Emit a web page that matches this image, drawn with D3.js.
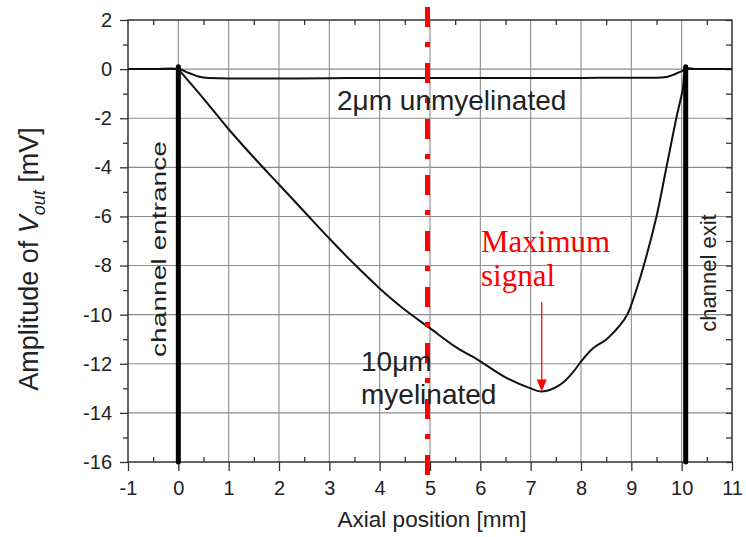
<!DOCTYPE html>
<html>
<head>
<meta charset="utf-8">
<script src="https://cdn.jsdelivr.net/npm/d3@7"></script>
<style>
  html, body { margin: 0; padding: 0; background: #fff; }
  svg { display: block; }
  text { font-family: "Liberation Sans", Arial, sans-serif; fill: #222; }
</style>
</head>
<body>
<svg id="chart" width="746" height="537"></svg>
<script>
// Axial position (mm) and signal amplitude (mV) along the channel
const xMyelinated = [-1, -0.5, 0, 0.05, 0.5, 1, 1.5, 2, 2.5, 3, 3.5, 4, 4.5, 5, 5.5, 6, 6.5, 7, 7.22, 7.58, 7.85, 8, 8.24, 8.51, 8.78, 8.93, 9.05, 9.24, 9.5, 9.7, 9.9, 10.02, 10.09, 10.3, 10.6, 11];
const yMyelinated = [0, 0, 0, -0.12, -1.2, -2.45, -3.6, -4.7, -5.8, -6.9, -7.95, -8.93, -9.8, -10.55, -11.3, -11.9, -12.55, -13.0, -13.13, -12.86, -12.32, -11.91, -11.37, -11.0, -10.42, -9.95, -9.3, -8.05, -6.0, -3.97, -1.94, -0.85, 0, 0, 0, 0];

const xUnmyelinated = [-1, -0.5, 0, 0.2, 0.4, 0.6, 1, 2, 3, 4, 5, 6, 7, 8, 9, 9.5, 9.7, 9.85, 10, 10.1, 10.5, 11];
const yUnmyelinated = [0, 0, 0, -0.15, -0.3, -0.36, -0.38, -0.38, -0.37, -0.36, -0.36, -0.36, -0.36, -0.36, -0.35, -0.35, -0.32, -0.22, -0.08, 0, 0, 0];

const xTicks = [-1, 0, 1, 2, 3, 4, 5, 6, 7, 8, 9, 10, 11];
const yTicks = [2, 0, -2, -4, -6, -8, -10, -12, -14, -16];

const channelEntrance = 0;
const channelExit = 10.08;
const markerPosition = 4.95;
const maxSignal = { x: 7.22, y: -13.13 };

const svg = d3.select("#chart");
const x = d3.scaleLinear().domain([-1, 11]).range([128, 732]);
const y = d3.scaleLinear().domain([2, -16]).range([20, 462]);
const [x0, x1] = x.range();
const [y0, y1] = y.range();

// grid
const grid = svg.append("g").attr("stroke", "#8c8c8c").attr("stroke-width", 1.1);
grid.selectAll("line.v").data(xTicks.slice(1, -1)).join("line")
  .attr("x1", d => x(d)).attr("x2", d => x(d)).attr("y1", y0).attr("y2", y1);
grid.selectAll("line.h").data(yTicks.slice(1, -1)).join("line")
  .attr("y1", d => y(d)).attr("y2", d => y(d)).attr("x1", x0).attr("x2", x1);

// axes
const axisColor = "#333";
const fontTick = "20px";
const halfX = d3.range(-0.5, 11, 1);
const oddY = d3.range(1, -16, -2);

const axisBottomG = svg.append("g").attr("transform", `translate(0,${y1})`)
  .call(d3.axisBottom(x).tickValues(xTicks).tickSize(9).tickSizeOuter(0).tickPadding(10).tickFormat(d3.format("d")));
const axisLeftG = svg.append("g").attr("transform", `translate(${x0},0)`)
  .call(d3.axisLeft(y).tickValues(yTicks).tickSize(8).tickSizeOuter(0).tickPadding(8).tickFormat(d3.format("d")));
svg.append("g").attr("transform", `translate(0,${y0})`)
  .call(d3.axisBottom(x).tickValues(halfX).tickSize(5).tickSizeOuter(0).tickFormat(""));
svg.append("g").attr("transform", `translate(${x1},0)`)
  .call(d3.axisLeft(y).tickValues(yTicks.concat(oddY)).tickSize(6).tickSizeOuter(0).tickFormat(""));
svg.append("g").attr("transform", `translate(0,${y1})`)
  .call(d3.axisTop(x).tickValues(halfX).tickSize(5).tickSizeOuter(0).tickFormat(""));
svg.append("g").attr("transform", `translate(${x0},0)`)
  .call(d3.axisLeft(y).tickValues(oddY).tickSize(5).tickSizeOuter(0).tickFormat(""));

svg.selectAll(".domain").remove();
svg.selectAll(".tick line").attr("stroke", axisColor).attr("stroke-width", 1.3);
svg.selectAll(".tick text").style("font-family", '"Liberation Sans", Arial, sans-serif')
  .style("font-size", fontTick).attr("fill", "#222");
axisBottomG.selectAll(".tick text").text(d => d < 0 ? "-" + Math.abs(d) : d);
axisLeftG.selectAll(".tick text").text(d => d < 0 ? "-" + Math.abs(d) : d);

svg.append("rect").attr("x", x0).attr("y", y0).attr("width", x1 - x0).attr("height", y1 - y0)
  .attr("fill", "none").attr("stroke", axisColor).attr("stroke-width", 1.5);

// curves
const lineFlat = d3.line().x(d => x(d[0])).y(d => y(d[1])).curve(d3.curveMonotoneX);
const lineSmooth = d3.line().x(d => x(d[0])).y(d => y(d[1])).curve(d3.curveCatmullRom.alpha(0.5));
svg.append("path").datum(d3.zip(xUnmyelinated, yUnmyelinated))
  .attr("d", lineFlat).attr("fill", "none").attr("stroke", "#111").attr("stroke-width", 2);
svg.append("path").datum(d3.zip(xMyelinated, yMyelinated))
  .attr("d", lineSmooth).attr("fill", "none").attr("stroke", "#111").attr("stroke-width", 2);

// channel boundaries
svg.selectAll("line.channel").data([channelEntrance, channelExit]).join("line")
  .attr("x1", d => x(d)).attr("x2", d => x(d)).attr("y1", y(0.1)).attr("y2", y(-16))
  .attr("stroke", "#000").attr("stroke-width", 5).attr("stroke-linecap", "round");

// marker line
svg.append("line")
  .attr("x1", x(markerPosition)).attr("x2", x(markerPosition))
  .attr("y1", y(2.53)).attr("y2", y(-16.53))
  .attr("stroke", "#ff0000").attr("stroke-width", 5)
  .attr("stroke-dasharray", "20,15,5,16");

// annotations
svg.append("text").attr("x", 337).attr("y", 110).style("font-size", "28px").text("2\u03bcm unmyelinated");
svg.append("text").attr("x", 361).attr("y", 371).style("font-size", "28px").text("10\u03bcm");
svg.append("text").attr("x", 361).attr("y", 404).style("font-size", "28px").text("myelinated");

svg.append("text").attr("transform", `translate(${x(channelEntrance) - 12},249) rotate(-90)`)
  .attr("text-anchor", "middle").style("font-size", "21px")
  .attr("textLength", 216).attr("lengthAdjust", "spacingAndGlyphs").text("channel entrance");
svg.append("text").attr("transform", `translate(${x(channelExit) + 30},273) rotate(-90)`)
  .attr("text-anchor", "middle").style("font-size", "22px").text("channel exit");

const redFont = '"Liberation Serif", "Times New Roman", serif';
svg.append("text").attr("x", 481).attr("y", 252).style("font-family", redFont).style("font-size", "31px")
  .style("fill", "#ff0000").text("Maximum");
svg.append("text").attr("x", 481).attr("y", 286).style("font-family", redFont).style("font-size", "31px")
  .style("fill", "#ff0000").text("signal");

const tipX = x(maxSignal.x), tipY = y(maxSignal.y);
svg.append("line").attr("x1", tipX).attr("x2", tipX).attr("y1", 302).attr("y2", tipY - 10)
  .attr("stroke", "#ff0000").attr("stroke-width", 1.2);
svg.append("path").attr("d", `M${tipX - 5},${tipY - 12} L${tipX + 5},${tipY - 12} L${tipX},${tipY} Z`)
  .attr("fill", "#ff0000");

// axis titles
svg.append("text").attr("x", 432).attr("y", 527).attr("text-anchor", "middle")
  .style("font-size", "22.5px").text("Axial position [mm]");
const yt = svg.append("text").attr("transform", "translate(38,259) rotate(-90)").attr("text-anchor", "middle")
  .style("font-size", "27px");
yt.append("tspan").text("Amplitude of ");
yt.append("tspan").style("font-style", "italic").text("V");
yt.append("tspan").attr("dy", 7).style("font-size", "18px").style("font-style", "italic").text("out");
yt.append("tspan").attr("dy", -7).text(" [mV]");
</script>
</body>
</html>
